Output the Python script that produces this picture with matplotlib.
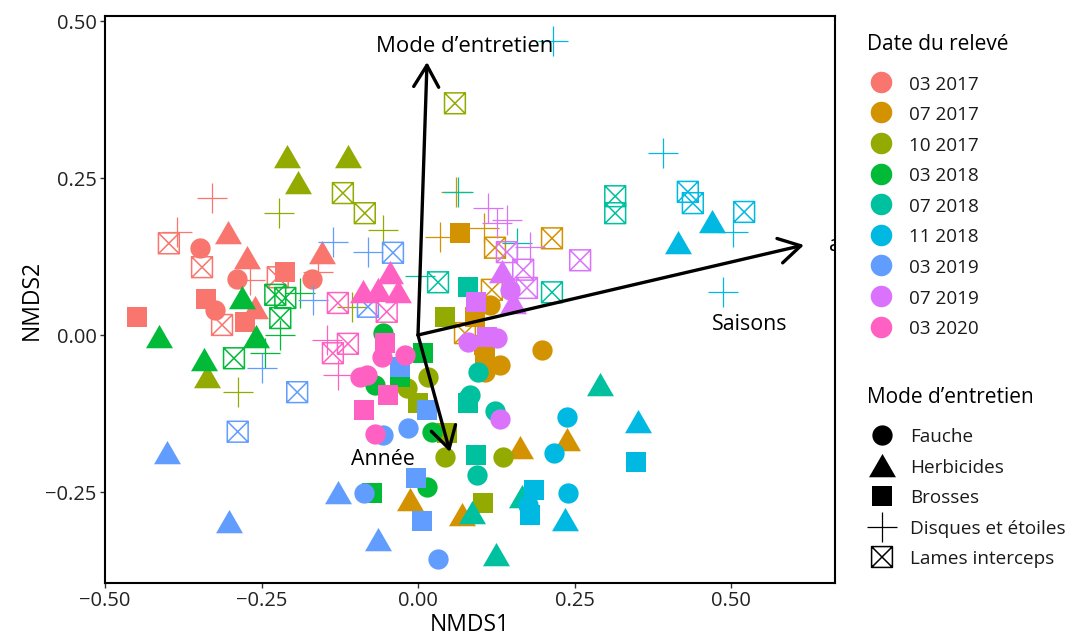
import matplotlib
matplotlib.use("Agg")
import matplotlib.pyplot as plt
import pandas as pd
from matplotlib.path import Path
from matplotlib.patches import FancyArrowPatch, ArrowStyle
from matplotlib.ticker import FuncFormatter

plt.rcParams['font.family'] = ['Open Sans', 'DejaVu Sans']

# ---- categories -----------------------------------------------------------
dates = ["03 2017", "07 2017", "10 2017", "03 2018", "07 2018",
         "11 2018", "03 2019", "07 2019", "03 2020"]
date_colors = ["#F8766D", "#D39200", "#93AA00", "#00BA38", "#00C19F",
               "#00B9E3", "#619CFF", "#DB72FB", "#FF61C3"]
modes = ["Fauche", "Herbicides", "Brosses", "Disques et étoiles", "Lames interceps"]
mode_codes = ["F", "H", "B", "D", "L"]

# ---- site scores: (NMDS1, NMDS2, mode code) per survey date ---------------
sites_03_2017 = [
    (-0.329, 0.218, "D"), (-0.385, 0.164, "D"), (-0.398, 0.146, "L"), (-0.348, 0.139, "F"),
    (-0.304, 0.162, "H"), (-0.345, 0.108, "L"), (-0.273, 0.123, "H"), (-0.289, 0.089, "F"),
    (-0.268, 0.088, "D"), (-0.212, 0.100, "B"), (-0.224, 0.092, "L"), (-0.153, 0.131, "H"),
    (-0.169, 0.089, "F"), (-0.160, 0.100, "D"), (-0.339, 0.057, "B"), (-0.324, 0.040, "F"),
    (-0.313, 0.016, "L"), (-0.276, 0.021, "B"), (-0.449, 0.029, "B"), (-0.260, 0.043, "H"),
]
sites_07_2017 = [
    (0.061, 0.228, "D"), (0.035, 0.156, "D"), (0.067, 0.162, "B"), (0.105, 0.170, "D"),
    (0.123, 0.139, "L"), (0.214, 0.154, "L"), (0.118, 0.072, "L"), (0.115, 0.048, "F"),
    (0.091, 0.029, "B"), (0.075, 0.003, "L"), (0.198, -0.024, "F"), (0.105, -0.016, "B"),
    (0.107, -0.037, "B"), (0.131, -0.048, "F"), (0.107, -0.059, "F"), (0.238, -0.167, "H"),
    (0.163, -0.180, "H"), (-0.013, -0.263, "H"), (0.070, -0.287, "H"),
]
sites_10_2017 = [
    (-0.209, 0.283, "H"), (-0.112, 0.283, "H"), (-0.192, 0.242, "H"), (-0.120, 0.226, "L"),
    (-0.085, 0.194, "L"), (0.059, 0.369, "L"), (-0.222, 0.194, "D"), (-0.056, 0.167, "D"),
    (-0.105, 0.045, "D"), (-0.288, -0.091, "D"), (-0.337, -0.067, "H"), (0.043, 0.029, "B"),
    (0.016, -0.067, "F"), (-0.018, -0.084, "F"), (0.043, -0.194, "F"), (0.136, -0.194, "F"),
    (0.000, -0.108, "B"), (0.046, -0.156, "B"), (0.104, -0.268, "B"),
]
sites_03_2018 = [
    (-0.281, 0.059, "H"), (-0.414, -0.003, "H"), (-0.259, -0.003, "H"), (-0.342, -0.040, "H"),
    (-0.228, 0.064, "L"), (-0.212, 0.059, "L"), (-0.220, 0.027, "L"), (-0.294, -0.037, "L"),
    (-0.188, 0.067, "D"), (-0.220, 0.000, "D"), (-0.244, -0.029, "D"), (-0.056, 0.003, "F"),
    (-0.069, -0.080, "F"), (0.022, -0.154, "F"), (0.014, -0.242, "F"), (0.008, -0.029, "B"),
    (-0.029, -0.067, "B"), (-0.073, -0.252, "B"),
]
sites_07_2018 = [
    (0.064, 0.228, "D"), (0.158, 0.146, "D"), (0.003, 0.094, "D"), (0.315, 0.221, "L"),
    (0.315, 0.194, "L"), (0.032, 0.084, "L"), (0.214, 0.068, "L"), (0.080, 0.076, "B"),
    (0.080, -0.108, "B"), (0.093, -0.191, "B"), (0.080, -0.100, "F"), (0.123, -0.121, "F"),
    (0.094, -0.223, "F"), (0.096, -0.059, "F"), (0.083, -0.096, "F"), (0.291, -0.080, "H"),
    (0.125, -0.350, "H"), (0.086, -0.283, "H"), (0.166, -0.258, "H"),
]
sites_11_2018 = [
    (0.216, 0.468, "D"), (0.391, 0.290, "D"), (0.503, 0.164, "D"), (0.487, 0.068, "D"),
    (0.431, 0.228, "L"), (0.439, 0.210, "L"), (0.521, 0.196, "L"), (0.470, 0.180, "H"),
    (0.415, 0.146, "H"), (0.351, -0.139, "H"), (0.235, -0.295, "H"), (0.348, -0.202, "B"),
    (0.185, -0.247, "B"), (0.179, -0.287, "B"), (0.238, -0.131, "F"), (0.217, -0.188, "F"),
    (0.240, -0.252, "F"), (0.176, -0.271, "F"),
]
sites_03_2019 = [
    (-0.136, 0.148, "D"), (-0.080, 0.132, "D"), (-0.168, 0.056, "D"), (-0.249, -0.053, "D"),
    (-0.040, 0.131, "L"), (-0.080, 0.045, "L"), (-0.193, -0.091, "L"), (-0.288, -0.154, "L"),
    (-0.401, -0.188, "H"), (-0.128, -0.252, "H"), (-0.302, -0.298, "H"), (-0.064, -0.326, "H"),
    (-0.086, -0.252, "F"), (-0.016, -0.148, "F"), (-0.056, -0.159, "F"), (0.032, -0.357, "F"),
    (-0.029, -0.051, "B"), (0.014, -0.119, "B"), (-0.003, -0.228, "B"), (0.006, -0.296, "B"),
]
sites_07_2019 = [
    (0.112, 0.202, "D"), (0.126, 0.178, "D"), (0.142, 0.183, "D"), (0.179, 0.140, "D"),
    (0.142, 0.132, "L"), (0.259, 0.119, "L"), (0.168, 0.104, "L"), (0.174, 0.075, "L"),
    (0.134, 0.100, "H"), (0.152, 0.051, "H"), (0.147, 0.072, "F"), (0.080, -0.011, "F"),
    (0.126, -0.005, "F"), (0.131, -0.134, "F"), (0.093, 0.053, "B"), (0.110, -0.003, "B"),
]
sites_03_2020 = [
    (-0.045, 0.099, "H"), (-0.088, 0.068, "H"), (-0.064, 0.072, "H"), (-0.032, 0.068, "H"),
    (-0.050, 0.037, "L"), (-0.128, 0.051, "L"), (-0.136, -0.029, "L"), (-0.112, -0.014, "L"),
    (-0.145, -0.008, "D"), (-0.128, -0.064, "D"), (-0.053, -0.013, "B"), (-0.086, -0.119, "B"),
    (-0.048, -0.096, "B"), (-0.058, -0.035, "F"), (-0.021, -0.032, "F"), (-0.081, -0.064, "F"),
    (-0.069, -0.158, "F"), (-0.093, -0.067, "F"),
]

# ---- fitted environmental vectors -----------------------------------------
vector_names = ["Mode d\u2019entretien", "Saisons", "Année"]
vector_nmds1 = [0.0144, 0.6166, 0.0511]
vector_nmds2 = [0.4347, 0.1433, -0.1863]

# ---- assemble the table ---------------------------------------------------
site_groups = [sites_03_2017, sites_07_2017, sites_10_2017, sites_03_2018, sites_07_2018,
               sites_11_2018, sites_03_2019, sites_07_2019, sites_03_2020]
rows = []
for date, group in zip(dates, site_groups):
    for x, y, code in group:
        rows.append((x, y, date, code))
sites = pd.DataFrame(rows, columns=["NMDS1", "NMDS2", "date", "mode"])

# ---- marker shapes (ggplot pch 16, 17, 15, 3, 7) --------------------------
triangle = Path([(-1, -0.8), (1, -0.8), (0, 0.932), (-1, -0.8)],
                [Path.MOVETO, Path.LINETO, Path.LINETO, Path.CLOSEPOLY])
boxed_x = Path([(-1, -1), (1, -1), (1, 1), (-1, 1), (-1, -1),
                (-1, -1), (1, 1), (-1, 1), (1, -1)],
               [Path.MOVETO, Path.LINETO, Path.LINETO, Path.LINETO, Path.CLOSEPOLY,
                Path.MOVETO, Path.LINETO, Path.MOVETO, Path.LINETO])
mode_style = {
    "F": dict(marker="o", s=14.6 ** 2, kind="filled", lw=0),
    "H": dict(marker=triangle, s=19.4 ** 2, kind="filled", lw=0),
    "B": dict(marker="s", s=14.0 ** 2, kind="filled", lw=0),
    "D": dict(marker="+", s=21.5 ** 2, kind="line", lw=0.9),
    "L": dict(marker=boxed_x, s=15.0 ** 2, kind="open", lw=1.1),
}


def draw_marker(axis, x, y, code, color, zorder=3):
    st = mode_style[code]
    if st["kind"] == "filled":
        axis.scatter(x, y, s=st["s"], marker=st["marker"], c=color,
                     linewidths=0, zorder=zorder)
    elif st["kind"] == "line":
        axis.scatter(x, y, s=st["s"], marker=st["marker"], c=color,
                     linewidths=st["lw"], zorder=zorder)
    else:
        axis.scatter(x, y, s=st["s"], marker=st["marker"],
                     facecolors="none", edgecolors=color, linewidths=st["lw"],
                     zorder=zorder)


W, H = 1067, 636
fig = plt.figure(figsize=(W / 100, H / 100), dpi=100)
ax = fig.add_axes([105 / W, 53 / H, 730 / W, 567 / H])

for date, color in zip(dates, date_colors):
    sub = sites[sites["date"] == date]
    for code in mode_codes:
        pts = sub[sub["mode"] == code]
        if len(pts):
            draw_marker(ax, pts["NMDS1"], pts["NMDS2"], code, color)

# vectors
head = ArrowStyle("->", head_length=15.5, head_width=9.0)
for vx, vy in zip(vector_nmds1, vector_nmds2):
    ax.add_patch(FancyArrowPatch((0, 0), (vx, vy), arrowstyle=head, mutation_scale=1,
                                 lw=2.4, color="black", shrinkA=0, shrinkB=0, zorder=6))

label_pos = [(0.074, 0.459), (0.530, 0.0175), (-0.056, -0.199)]
label_size = [15.9, 15.4, 15.4]
for name, (lx, ly), fs in zip(vector_names, label_pos, label_size):
    ax.text(lx, ly, name, ha="center", va="center", fontsize=fs, color="black", zorder=7)
ax.text(0.6566, 0.133, "a", ha="left", va="baseline", fontsize=15.4, color="black",
        clip_on=True, zorder=7)

ax.set_xlim(-0.5, 0.6661)
ax.set_ylim(-0.3949, 0.5080)
ticks = [-0.5, -0.25, 0.0, 0.25, 0.5]
ax.set_xticks(ticks)
ax.set_yticks(ticks[1:])
fmt = FuncFormatter(lambda v, _: f"{v:.2f}".replace("-", "\u2212"))
ax.xaxis.set_major_formatter(fmt)
ax.yaxis.set_major_formatter(fmt)
ax.tick_params(length=3.6, width=1.0, color="#333333", labelsize=14.5,
               labelcolor="#222222", pad=2.5)
for sp in ax.spines.values():
    sp.set_linewidth(1.5)
    sp.set_color("black")
ax.set_xlabel("NMDS1", fontsize=16.5, labelpad=1)
ax.set_ylabel("NMDS2", fontsize=16.5, labelpad=1)

# ---- legends ----------------------------------------------------------------
lax = fig.add_axes([0, 0, 1, 1], facecolor="none")
lax.set_xlim(0, W)
lax.set_ylim(H, 0)
lax.axis("off")

lax.text(867, 50, "Date du relevé", fontsize=15.0, ha="left", va="baseline")
for i, (date, color) in enumerate(zip(dates, date_colors)):
    yc = 81.7 + i * 30.6
    lax.scatter([881], [yc], s=15.5 ** 2, marker="o", c=color, linewidths=0)
    lax.text(909, yc + 7.8, date, fontsize=13.6, ha="left", va="baseline", color="#1a1a1a")

lax.text(867, 403, "Mode d\u2019entretien", fontsize=15.0, ha="left", va="baseline")
for i, (mode, code) in enumerate(zip(modes, mode_codes)):
    yc = 435 + i * 30.5
    draw_marker(lax, [882], [yc], code, "black")
    lax.text(910, yc + 7.2, mode, fontsize=13.6, ha="left", va="baseline", color="#1a1a1a")

fig.savefig("out.png", dpi=100)
